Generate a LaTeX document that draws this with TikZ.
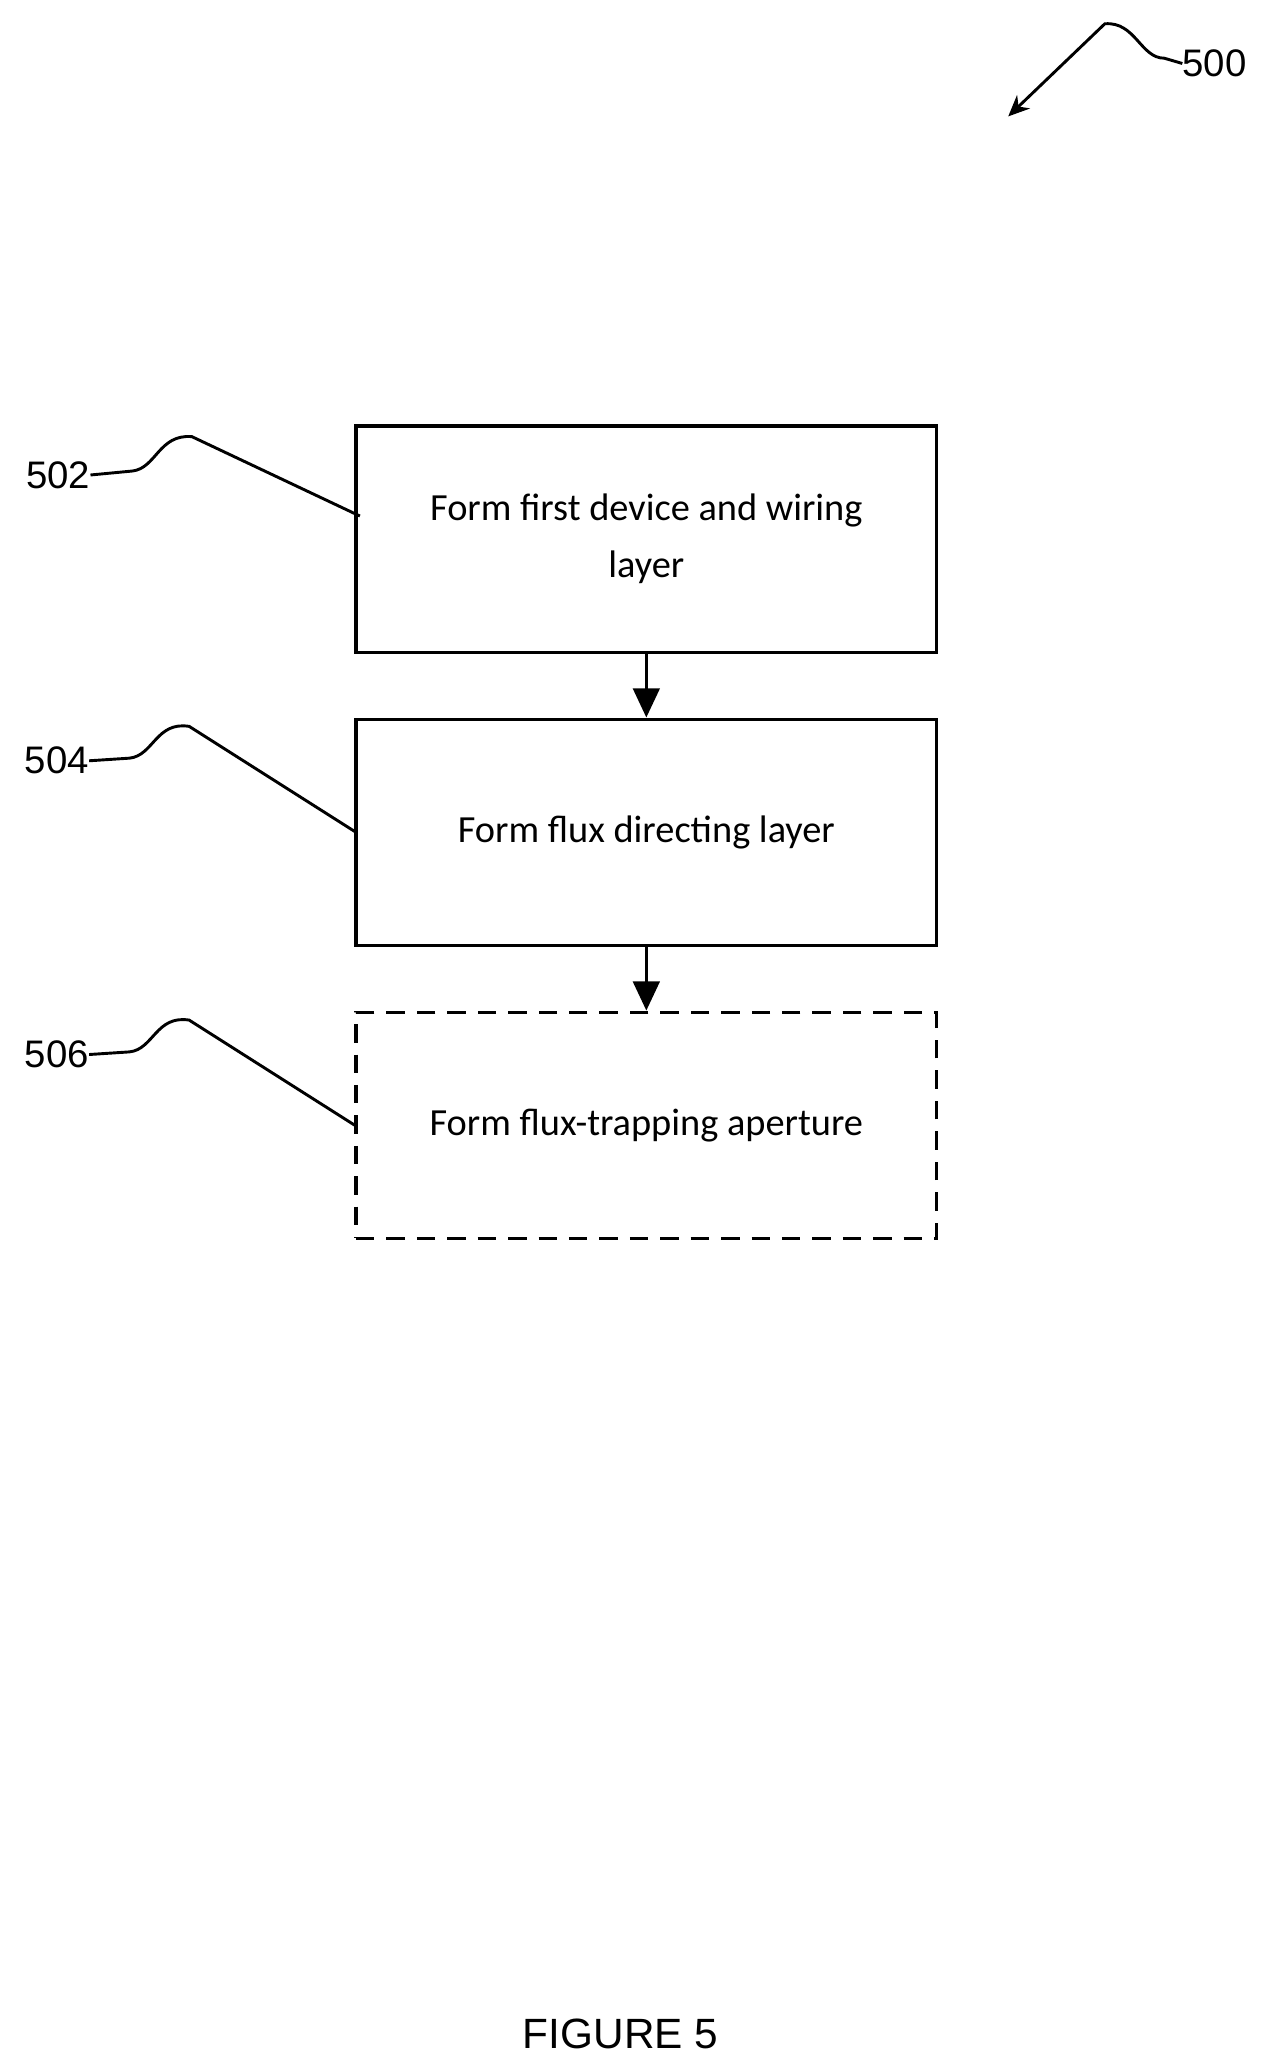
\documentclass[tikz,border=0pt]{standalone}
\usepackage{fontspec}
\setmainfont{Carlito}
\newfontfamily\arialf{Liberation Sans}
\usetikzlibrary{arrows.meta}
\begin{document}
\begin{tikzpicture}[x=1pt,y=-1pt,
 box/.style={draw,line width=2.4pt,minimum width=439pt,minimum height=171pt,align=center,font=\fontsize{29}{43}\selectfont,inner sep=0},
 ref/.style={font=\arialf\fontsize{29}{34}\selectfont,inner sep=0},
 lead/.style={line width=2.2pt},
 arr/.style={line width=2.4pt,-{Triangle[length=22pt,width=20pt]}}]
\useasboundingbox (0,0) rectangle (960,1563);
\node[box] (b1) at (488.5,407.5) {Form first device and wiring\\layer};
\node[box] (b2) at (488.5,629) {Form flux directing layer};
\node[box,dash pattern=on 14pt off 9pt] (b3) at (488.5,850.5) {Form flux-trapping aperture};
\draw[arr] (b1.south) -- (b2.north);
\draw[arr] (b2.south) -- (b3.north);
\node[ref] (l2) at (44,359) {502};
\node[ref] (l4) at (43,575) {504};
\node[ref] (l6) at (43,797) {506};
\node[ref] (l0) at (918,48) {500};
\coordinate (e2) at (272,390);
\coordinate (e4) at (269,629);
\coordinate (e6) at (269,851);
\coordinate (e0) at (762,88);
\draw[lead] (l2.east) -- (100,356) .. controls (118,354) and (120,328) .. (145,330) -- (e2);
\draw[lead] (l4.east) -- (98,573) .. controls (116,571) and (118,545) .. (143,549) -- (e4);
\draw[lead] (l6.east) -- (98,795) .. controls (116,793) and (118,767) .. (143,771) -- (e6);
\draw[lead,-{Stealth[length=16pt,width=14pt]}] (l0.west) -- (880,44) .. controls (862,44) and (858,16) .. (835,18) -- (e0);
\node[font=\arialf\fontsize{32}{38}\selectfont] (fig) at (469,1537) {FIGURE 5};
\end{tikzpicture}
\end{document}
